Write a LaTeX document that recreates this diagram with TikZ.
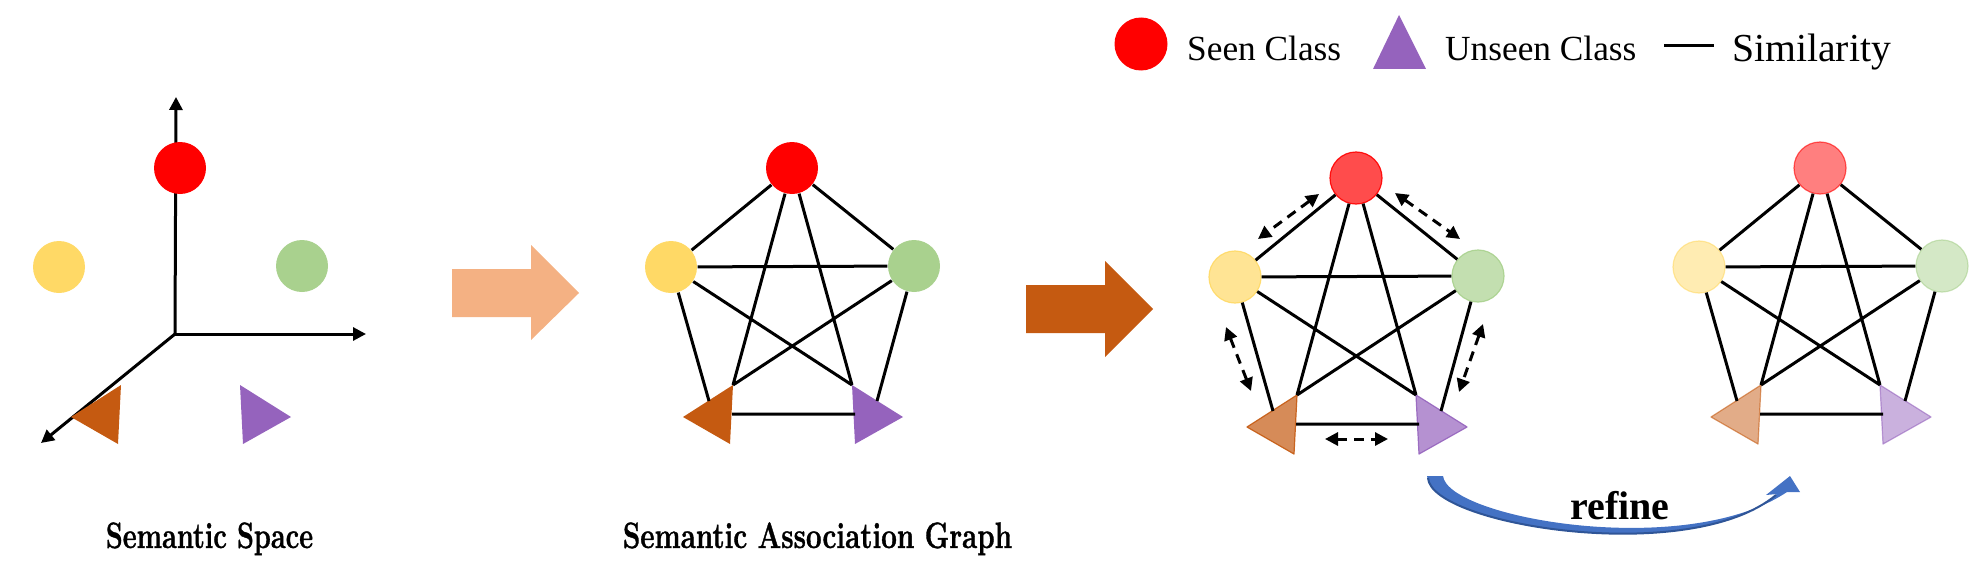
\documentclass[tikz,border=0pt]{standalone}
\usepackage{fontspec}
\usepackage{graphicx}
\newfontfamily\timesfont{Liberation Serif}
\newfontfamily\capfont{Latin Modern Roman}[BoldFeatures={FakeBold=1.2}]
\usetikzlibrary{arrows.meta}
\definecolor{cred}{HTML}{FF0000}
\definecolor{cyellow}{HTML}{FFD966}
\definecolor{cgreen}{HTML}{A9D18E}
\definecolor{corange}{HTML}{C55A11}
\definecolor{cpurple}{HTML}{9563BD}
\definecolor{clight}{HTML}{F4B183}
\definecolor{cblue}{HTML}{4472C4}
\definecolor{cdblue}{HTML}{2F5597}
\tikzset{
  dot/.style={circle, minimum size=52pt, inner sep=0pt, line width=1.2pt},
  edge/.style={line width=3pt},
  axis/.style={line width=3pt, -{Triangle[length=13pt,width=13pt]}},
  dblarrow/.style={line width=3pt, dash pattern=on 10pt off 7pt,
     {Triangle[length=13pt,width=13pt]}-{Triangle[length=13pt,width=13pt]}},
  legtext/.style={anchor=base west, inner sep=0pt, font=\timesfont\fontsize{35.3}{40}\selectfont},
  captext/.style={anchor=base, inner sep=0pt, font=\capfont\fontsize{36.6}{40}\selectfont\bfseries},
}
\newcommand\mkshapes[5]{%
 \begin{scope}[shift={(#2,#3)}]
  \node[dot, fill=cred, draw=cred, fill opacity=#4, draw opacity=#5] (r#1) at (792,168) {};
  \node[dot, fill=cyellow, draw=cyellow, fill opacity=#4, draw opacity=#5] (y#1) at (671,267) {};
  \node[dot, fill=cgreen, draw=cgreen, fill opacity=#4, draw opacity=#5] (g#1) at (914,266) {};
  \coordinate (oT#1) at (733,385); \coordinate (oL#1) at (683,417); \coordinate (oB#1) at (730,444);
  \coordinate (pT#1) at (852,385); \coordinate (pR#1) at (903,417); \coordinate (pB#1) at (855,444);
  \coordinate (oE#1) at (709,401); \coordinate (pE#1) at (877,401);
  \coordinate (oM#1) at (732,414); \coordinate (pM#1) at (855,414);
  \filldraw[fill=corange, draw=corange, fill opacity=#4, draw opacity=#5, line width=1.2pt, line join=round]
     (oT#1) -- (oL#1) -- (oB#1) -- cycle;
  \filldraw[fill=cpurple, draw=cpurple, fill opacity=#4, draw opacity=#5, line width=1.2pt, line join=round]
     (pT#1) -- (pR#1) -- (pB#1) -- cycle;
 \end{scope}}
\newcommand\mkedges[1]{%
 \draw[edge] (r#1) -- (y#1) (r#1) -- (g#1) (r#1) -- (oT#1) (r#1) -- (pT#1)
   (y#1) -- (g#1) (y#1) -- (pT#1) (g#1) -- (oT#1) (y#1) -- (oE#1) (g#1) -- (pE#1)
   (oM#1) -- (pM#1);}
\begin{document}
\begin{tikzpicture}[x=1pt,y=-1pt]
\useasboundingbox (0,0) rectangle (1988,586);
% ---------- semantic space ----------
\coordinate (O) at (175,334);
\coordinate (AX) at (366,334);
\coordinate (AY) at (176,97);
\coordinate (AZ) at (41,443);
\draw[axis] (O) -- (AY);
\draw[axis] (O) -- (AX);
\draw[axis] (O) -- (AZ);
\mkshapes{a}{-612}{0}{1}{0}
% ---------- arrows between panels ----------
\fill[clight] (452,269) -- (531,269) -- (531,245) -- (579,293) -- (531,340) -- (531,317) -- (452,317) -- cycle;
\fill[corange] (1026,285) -- (1105,285) -- (1105,261) -- (1153,309) -- (1105,357) -- (1105,333) -- (1026,333) -- cycle;
% ---------- association graph ----------
\mkshapes{b}{0}{0}{1}{0}
\mkedges{b}
% ---------- graph being refined ----------
\mkshapes{c}{564}{10}{0.7}{0.9}
\mkedges{c}
\coordinate (d1a) at (1319,194); \coordinate (d1b) at (1258,239);
\coordinate (d2a) at (1395,193); \coordinate (d2b) at (1460,239);
\coordinate (d3a) at (1226,327); \coordinate (d3b) at (1251,391);
\coordinate (d4a) at (1483,324); \coordinate (d4b) at (1459,392);
\coordinate (d5a) at (1325,439); \coordinate (d5b) at (1388,439);
\draw[dblarrow] (d1a) -- (d1b);
\draw[dblarrow] (d2a) -- (d2b);
\draw[dblarrow] (d3a) -- (d3b);
\draw[dblarrow] (d4a) -- (d4b);
\draw[dblarrow] (d5a) -- (d5b);
% ---------- refined graph ----------
\mkshapes{d}{1028}{0}{0.5}{0.6}
\mkedges{d}
% ---------- refine arrow ----------
\fill[cblue] (1427,476) .. controls (1430,525) and (1690,568) .. (1777,494)
   -- (1766,495) -- (1790,476) -- (1800,492) -- (1787,492)
   .. controls (1685,560) and (1448,518) .. (1443,476) -- cycle;
\draw[cdblue, line width=2pt] (1428,478) .. controls (1431,525) and (1690,567) .. (1776,495);
\node[anchor=base, inner sep=0pt, font=\timesfont\bfseries\fontsize{40}{44}\selectfont] (refine) at (1620,519) {refine};
% ---------- captions ----------
\node[captext] (cap1) at (209.5,548) {\scalebox{0.74}[1]{Semantic Space}};
\node[captext] (cap2) at (817.5,548) {\scalebox{0.76}[1]{Semantic Association Graph}};
% ---------- legend ----------
\node[dot, minimum size=53pt, fill=cred] (legseen) at (1141,44) {};
\node[legtext] (tseen) at (1187,61) {Seen Class};
\fill[cpurple] (1399,15) -- (1373,69) -- (1426,69) -- cycle;
\node[legtext] (tunseen) at (1445,61) {Unseen Class};
\coordinate (ls1) at (1664,46); \coordinate (ls2) at (1714,46);
\draw[line width=3pt] (ls1) -- (ls2);
\node[legtext, font=\timesfont\fontsize{39.7}{44}\selectfont] (tsim) at (1732,62) {Similarity};
\end{tikzpicture}
\end{document}
